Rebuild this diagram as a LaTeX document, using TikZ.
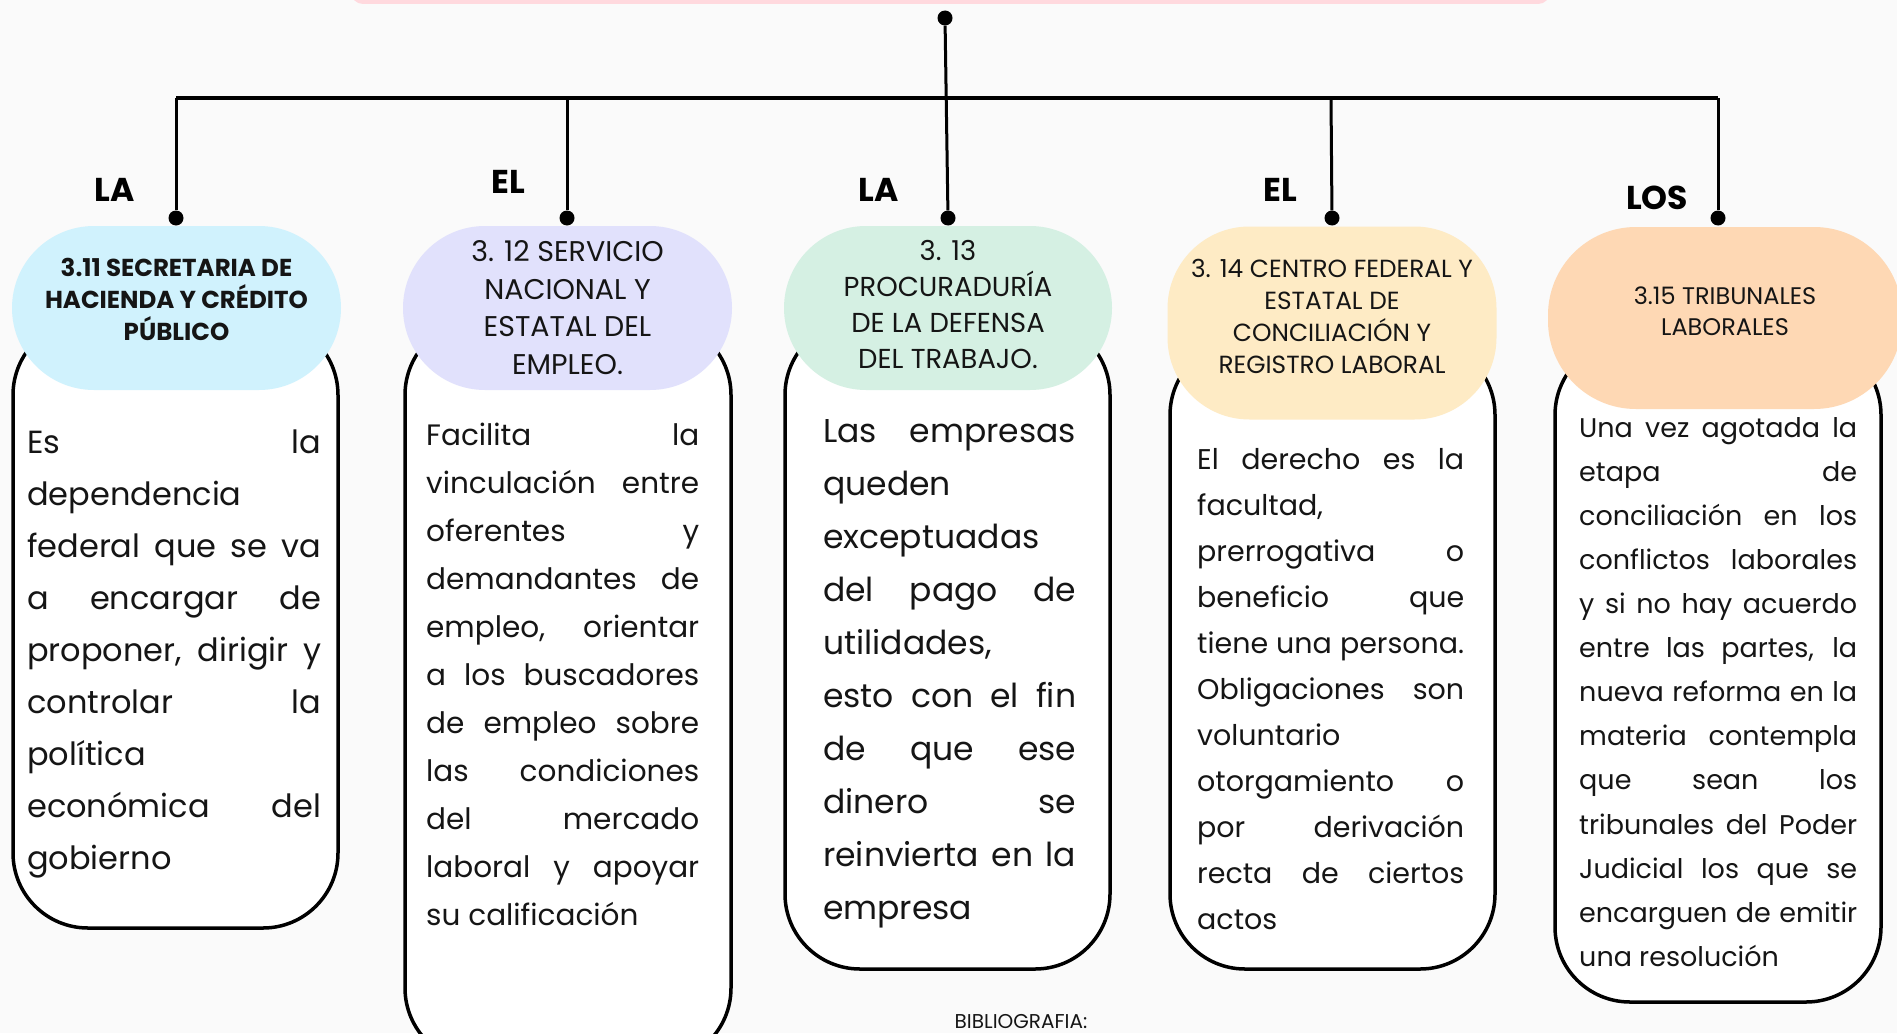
\documentclass[tikz,border=0pt]{standalone}
\usepackage{fontspec}
\setmainfont{Poppins}
\usepackage{xcolor}
\usepackage{tikz}
\usetikzlibrary{positioning}
\definecolor{Fondo}{HTML}{FAFAFA}
\definecolor{RosaTitulo}{HTML}{FFD9DE}
\definecolor{CelesteSHCP}{HTML}{D0F2FD}
\definecolor{LilaSNE}{HTML}{E1E1FC}
\definecolor{MentaPRO}{HTML}{D5F0E3}
\definecolor{AmarilloCF}{HTML}{FEEBC5}
\definecolor{DuraznoTL}{HTML}{FED8B4}
\definecolor{TintaTexto}{HTML}{151515}
\hyphenpenalty=10000
\exhyphenpenalty=10000

\tikzset{
  caja/.style={draw=black, line width=3.5pt, fill=white, rounded corners=75pt},
  pildora/.style={rounded corners=82pt, inner sep=0pt},
  titulo/.style={inner sep=0pt, align=center, text=TintaTexto},
  cuerpo/.style={anchor=north west, inner sep=0pt, align=justify, text=TintaTexto,
    execute at begin node=\strut},
  articulo/.style={font=\bfseries\fontsize{33}{33}\selectfont, inner sep=0pt},
  punto/.style={circle, fill=black, inner sep=0pt, minimum size=15pt},
  rama/.style={line width=3pt},
}

\begin{document}
\begin{tikzpicture}[x=1pt, y=-1pt]
  % page
  \useasboundingbox (0,0) rectangle (1897,1033);
  \fill[Fondo] (0,0) rectangle (1897,1033);
  \fill[RosaTitulo, rounded corners=12pt] (351,-30) rectangle (1550,4);

  % connectors
  \node[punto] (cima) at (945,18) {};
  \coordinate (b1) at (176,98);
  \coordinate (b2) at (567,98);
  \coordinate (b3) at (946,98);
  \coordinate (b4) at (1331,98);
  \coordinate (b5) at (1718,98);
  \node[punto] (d1) at (176,218) {};
  \node[punto] (d2) at (567,218) {};
  \node[punto] (d3) at (948,218) {};
  \node[punto] (d4) at (1332,218) {};
  \node[punto] (d5) at (1718,218) {};
  \draw[line width=4.5pt] (b1) -- (b5);
  \draw[rama] (cima) -- (d3);
  \foreach \i in {1,2,4,5}
    \draw[rama] (b\i) -- (d\i);

  % articles
  \node[articulo] (art1) at (115,190) {LA};
  \node[articulo] (art2) at (508,182) {EL};
  \node[articulo] (art3) at (879,190) {LA};
  \node[articulo] (art4) at (1280,190) {EL};
  \node[articulo] (art5) at (1657,198) {LOS};

  % boxes
  \draw[caja] (13,320) rectangle (338,928);
  \draw[caja] (405,320) rectangle (731,1063);
  \draw[caja] (785,320) rectangle (1110,969);
  \draw[caja] (1170,340) rectangle (1495,969);
  \draw[caja] (1555,340) rectangle (1881,1002);

  % headers
  \node[pildora, fill=CelesteSHCP, minimum width=329pt, minimum height=164pt] (h1) at (176.5,308) {};
  \node[pildora, fill=LilaSNE, minimum width=329pt, minimum height=164pt] (h2) at (567.5,308) {};
  \node[pildora, fill=MentaPRO, minimum width=328pt, minimum height=164pt] (h3) at (948,308) {};
  \node[pildora, fill=AmarilloCF, minimum width=329pt, minimum height=193pt] (h4) at (1332,323) {};
  \node[pildora, fill=DuraznoTL, minimum width=354pt, minimum height=182pt,
    rounded corners=88pt] (h5) at (1725,318) {};

  \node[titulo, font=\bfseries\fontsize{24.5}{31.7}\selectfont] (n1) at ([yshift=8.5pt]h1.center)
    {3.11 SECRETARIA DE\\HACIENDA Y CRÉDITO\\PÚBLICO};
  \node[titulo, font=\fontsize{28.5}{37.5}\selectfont] (n2) at ([yshift=0.5pt]h2.center)
    {3. 12 SERVICIO\\NACIONAL Y\\ESTATAL DEL\\EMPLEO.};
  \node[titulo, font=\fontsize{27.4}{36}\selectfont] (n3) at ([yshift=3.5pt]h3.center)
    {3. 13\\PROCURADURÍA\\DE LA DEFENSA\\DEL TRABAJO.};
  \node[titulo, font=\fontsize{24.8}{32}\selectfont] (n4) at ([yshift=7pt]h4.center)
    {3. 14 CENTRO FEDERAL Y\\ESTATAL DE\\CONCILIACIÓN Y\\REGISTRO LABORAL};
  \node[titulo, font=\fontsize{24}{31}\selectfont] (n5) at ([yshift=7pt]h5.center)
    {3.15 TRIBUNALES\\LABORALES};

  % texts
  \node[cuerpo, text width=294pt, font=\fontsize{32}{52}\selectfont] (t1) at (27,416.6)
    {Es la\linebreak dependencia\linebreak federal que se va\linebreak a encargar de\linebreak
     proponer, dirigir y\linebreak controlar la\linebreak política\linebreak económica del\linebreak gobierno};
  \node[cuerpo, text width=273pt, font=\fontsize{29.5}{48}\selectfont] (t2) at (426,411.4)
    {Facilita la\linebreak vinculación entre\linebreak oferentes y\linebreak demandantes de\linebreak
     empleo, orientar\linebreak a los buscadores\linebreak de empleo sobre\linebreak las condiciones\linebreak
     del mercado\linebreak laboral y apoyar\linebreak su calificación};
  \node[cuerpo, text width=253pt, font=\fontsize{33}{53}\selectfont] (t3) at (823,404.9)
    {Las empresas\linebreak queden\linebreak exceptuadas\linebreak del pago de\linebreak utilidades,\linebreak
     esto con el fin\linebreak de que ese\linebreak dinero se\linebreak reinvierta en la\linebreak empresa};
  \node[cuerpo, text width=267pt, font=\fontsize{28.5}{46}\selectfont] (t4) at (1197,436.8)
    {El derecho es la\linebreak facultad,\linebreak prerrogativa o\linebreak beneficio que\linebreak
     tiene una persona.\linebreak Obligaciones son\linebreak voluntario\linebreak otorgamiento o\linebreak
     por derivación\linebreak recta de ciertos\linebreak actos};
  \node[cuerpo, text width=278pt, font=\fontsize{27}{44.1}\selectfont] (t5) at (1579,406.1)
    {Una vez agotada la\linebreak etapa de\linebreak conciliación en los\linebreak conflictos laborales\linebreak
     y si no hay acuerdo\linebreak entre las partes, la\linebreak nueva reforma en la\linebreak materia contempla\linebreak
     que sean los\linebreak tribunales del Poder\linebreak Judicial los que se\linebreak encarguen de emitir\linebreak una resolución};

  % footer
  \node[anchor=base, inner sep=0pt, text=TintaTexto, font=\fontsize{20}{20}\selectfont] (biblio)
    at (1021,1028) {BIBLIOGRAFIA:};
\end{tikzpicture}
\end{document}
